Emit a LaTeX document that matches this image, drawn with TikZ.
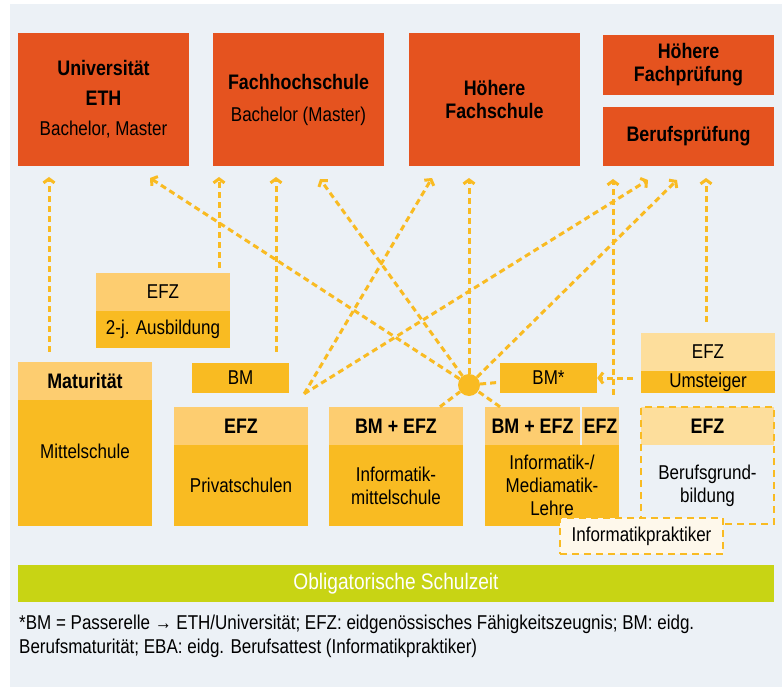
\documentclass[tikz,border=0pt]{standalone}
\usepackage{fontspec}
\setmainfont{Liberation Sans}[FakeStretch=0.85]
\usetikzlibrary{arrows.meta,positioning,calc}
\definecolor{orng}{HTML}{E5531F}
\definecolor{lite}{HTML}{FDCD70}
\definecolor{pale}{HTML}{FDDE9C}
\definecolor{yel}{HTML}{F9BB22}
\definecolor{cream}{HTML}{FEF8EB}
\definecolor{lime}{HTML}{C8D414}
\definecolor{bgc}{HTML}{ECF1F6}
\newcommand{\txtreg}{\fontsize{20}{23}\selectfont}
\newcommand{\txtbold}{\fontsize{21}{23}\selectfont\bfseries}
\tikzset{
  tertiary/.style={fill=orng, inner sep=0pt, minimum width=171pt, align=center, font=\txtreg},
  headbar/.style={fill=lite, inner sep=0pt, minimum width=134pt, minimum height=38pt, font=\txtbold},
  bodybox/.style={fill=yel, inner sep=0pt, minimum width=134pt, align=center, font=\txtreg},
  flow/.style={draw=yel, line width=3pt, dash pattern=on 6pt off 4pt, -{Straight Barb[length=4pt,width=11pt]}},
  link/.style={draw=yel, line width=3pt, dash pattern=on 6pt off 4pt},
}

\begin{document}
\begin{tikzpicture}[x=1pt, y=-1pt]
        \useasboundingbox (0,0) rectangle (784,687);
        \fill[bgc] (10,4) rectangle (782,687);
        %tertiary level
        \node[tertiary, minimum height=133pt] (uni) at (103.5,99.5) {\txtbold Universität\\[7pt] \txtbold ETH\\[7pt] \txtreg Bachelor, Master};
        \node[tertiary, minimum height=133pt] (fh) at (298.5,99.5) {\txtbold Fachhochschule\\[9pt] \txtreg Bachelor (Master)};
        \node[tertiary, minimum height=133pt, font=\txtbold] (hf) at (494.5,99.5) {Höhere\\Fachschule};
        \node[tertiary, minimum height=60pt, font=\txtbold] (hfp) at (688.5,65) {Höhere\\Fachprüfung};
        \node[tertiary, minimum height=59pt, font=\txtbold] (bp) at (688.5,136.5) {Berufsprüfung};
        %schools
        \node[headbar, font=\txtreg] (efz2) at (163,292) {EFZ};
        \node[bodybox, minimum height=37pt] (ausb) at (163,329.5) {2-j. Ausbildung};
        \node[headbar] (mat) at (85,381) {Maturität};
        \node[bodybox, minimum height=126pt, text depth=24pt] (mit) at (85,463) {Mittelschule};
        \node[bodybox, minimum width=97pt, minimum height=30pt] (bm) at (240.5,378) {BM};
        \node[headbar] (priv) at (241,426) {EFZ};
        \node[bodybox, minimum height=81pt] (privb) at (241,485.5) {Privatschulen};
        \node[headbar] (ims) at (396,426) {BM + EFZ};
        \node[bodybox, minimum height=81pt] (imsb) at (396,485.5) {Informatik-\\mittelschule};
        \node[headbar, minimum width=95pt] (lbm) at (532.5,426) {BM + EFZ};
        \node[headbar, minimum width=37pt] (lefz) at (600.5,426) {EFZ};
        \node[bodybox, minimum height=81pt] (lehre) at (552,485.5) {Informatik-/\\Mediamatik-\\Lehre};
        \node[bodybox, minimum width=97pt, minimum height=30pt] (bms) at (548.5,378) {BM*};
        \node[circle, fill=yel, inner sep=0pt, minimum size=22pt] (hub) at (469,385) {};
        \node[headbar, fill=pale, font=\txtreg] (ums) at (708,352) {EFZ};
        \node[bodybox, minimum height=22pt] (umsb) at (708,382) {Umsteiger};
        \node[headbar, fill=pale, minimum width=133pt] (bgb) at (707.5,426) {EFZ};
        \node[draw=yel, line width=2pt, dash pattern=on 7pt off 5pt, inner sep=0pt, minimum width=133pt,
              minimum height=117pt] (bgbb) at (707.5,465.5) {};
        \node[font=\txtreg, align=center, inner sep=0pt] (bgbt) at (707.5,485.5) {Berufsgrund-\\bildung};
        \node[draw=yel, fill=cream, line width=2pt, dash pattern=on 7pt off 5pt, inner sep=0pt,
              minimum width=163pt, minimum height=36pt, font=\txtreg] (prak) at (641.5,536) {Informatikpraktiker};
        \node[fill=lime, text=white, inner sep=0pt, minimum width=756pt, minimum height=37pt,
              font=\fontsize{22.5}{24}\selectfont] (oblig) at (396,583.5) {Obligatorische Schulzeit};
        \node[anchor=west, align=left, inner sep=0pt, font=\fontsize{20}{24}\selectfont] (note) at (19,636)
              {*BM = Passerelle → ETH/Universität; EFZ: eidgenössisches Fähigkeitszeugnis; BM: eidg.\\
               Berufsmaturität; EBA: eidg. Berufsattest (Informatikpraktiker)};
        %arrow tips
        \coordinate (u1) at (49,177);
        \coordinate (u2) at (150,178);
        \coordinate (f1) at (219,177);
        \coordinate (f2) at (276,177);
        \coordinate (f3) at (320,179);
        \coordinate (h1) at (432,178);
        \coordinate (h2) at (469,178);
        \coordinate (b1) at (613,179);
        \coordinate (b2) at (648,180);
        \coordinate (b3) at (677,180);
        \coordinate (b4) at (706,178);
        %edges
        \draw[link] ([xshift=44pt]ims.north) -- (hub);
        \draw[link] ([xshift=-32.5pt]lbm.north) -- (hub);
        \draw[link] (hub) -- (bms);
        \draw[flow, shorten <=10pt] ([xshift=-36pt]mat.north) -- (u1);
        \draw[flow, shorten <=5pt] ([xshift=56pt]efz2.north) -- (f1);
        \draw[flow, shorten <=11pt] ([xshift=35.5pt]bm.north) -- (f2);
        \draw[flow] (hub) -- (u2);
        \draw[flow] (hub) -- (f3);
        \draw[flow] (hub) -- (h2);
        \draw[flow] (hub) -- (b3);
        \draw[flow] ([xshift=-4pt,yshift=13pt]priv.north east) -- (h1);
        \draw[flow] ([xshift=-4pt,yshift=13pt]priv.north east) -- (b2);
        \draw[flow, shorten <=12pt] ([xshift=12.5pt]lefz.north) -- (b1);
        \draw[flow, shorten <=11pt] ([xshift=-2pt]ums.north) -- (b4);
        \draw[flow, shorten <=8pt] (umsb.west |- bms.east) -- (bms.east);
\end{tikzpicture}
\end{document}
